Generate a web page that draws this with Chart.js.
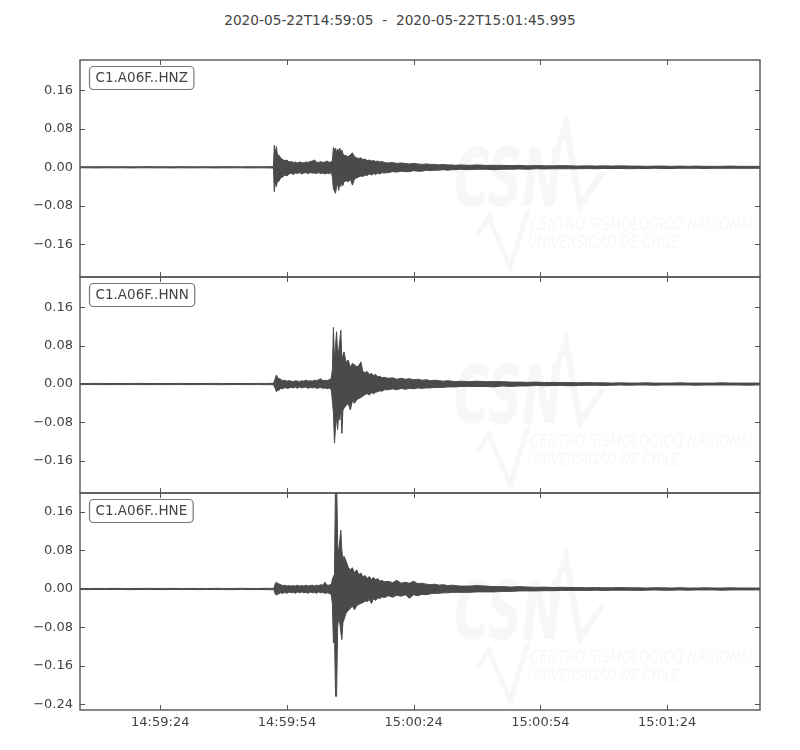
<!DOCTYPE html>
<html>
<head>
<meta charset="utf-8">
<script src="https://cdn.jsdelivr.net/npm/chart.js@4.4.0/dist/chart.umd.min.js"></script>
<style>
body { margin: 0; background: #fff; width: 800px; height: 750px; position: relative; overflow: hidden; font-family: "DejaVu Sans", sans-serif; }
#title { position: absolute; top: 12px; left: 0; width: 800px; text-align: center; font-size: 13.7px; color: #444; white-space: pre; }
canvas { position: absolute; left: 0; }
</style>
</head>
<body>
<div id="title"></div>
<canvas id="hnz" width="800" height="237" style="top:50px"></canvas>
<canvas id="hnn" width="800" height="236" style="top:267px"></canvas>
<canvas id="hne" width="800" height="267" style="top:483px"></canvas>
<script>
// record window and axis labels
const startTime = '2020-05-22T14:59:05'
const endTime = '2020-05-22T15:01:45.995'
const duration = 160.995
const tickSeconds = [19, 49, 79, 109, 139]
const tickLabels = ['14:59:24', '14:59:54', '15:00:24', '15:00:54', '15:01:24']
const channels = ['C1.A06F..HNZ', 'C1.A06F..HNN', 'C1.A06F..HNE']

// y limits per panel and tick values
const rangeHNZ = [-0.228, 0.223]
const rangeHNN = [-0.227, 0.223]
const rangeHNE = [-0.2515, 0.1995]
const ticksZN = [-0.16, -0.08, 0, 0.08, 0.16]
const ticksE = [-0.24, -0.16, -0.08, 0, 0.08, 0.16]

// seconds after start, envelope (peak up / peak down per step)
const secs = [0, 2, 4, 6, 8, 10, 12, 14, 16, 18, 20, 22, 24, 26, 28, 30, 32, 34, 36, 38, 40, 42, 44, 45, 45.8,
	46, 46.25, 46.5, 46.75, 47, 47.5, 48, 48.5, 49, 49.5, 50, 50.5, 51, 51.5, 52, 52.5, 53, 53.5, 54, 54.5, 55, 55.5, 56, 56.5, 57, 57.5, 58, 58.5, 59, 59.5,
	59.75, 60, 60.25, 60.5, 60.75, 61, 61.25, 61.5, 61.75, 62, 62.25, 62.5,
	63, 63.5, 64, 64.5, 65, 65.5, 66, 66.5, 67, 67.5, 68, 68.5, 69, 69.5, 70, 70.5, 71, 71.5, 72,
	73, 74, 75, 76, 77, 78, 79, 80, 81, 82, 83, 84, 85, 86, 87, 88, 89, 90,
	92, 94, 96, 98, 100, 102, 104, 106, 108, 110, 112, 114, 116, 118, 120, 122, 124, 126, 128, 130, 132, 134, 136, 138, 140, 142, 144, 146, 148, 150, 152, 154, 156, 158, 160, 161]

const hnzTop = [0.001, 0.0012, 0.001, 0.0013, 0.001, 0.0012, 0.0011, 0.001, 0.0014, 0.001, 0.0012, 0.001, 0.0013, 0.0011, 0.001, 0.0012, 0.001, 0.0013, 0.0011, 0.001, 0.0012, 0.0011, 0.0013, 0.0012, 0.0015,
	0.046, 0.03, 0.043, 0.025, 0.026, 0.02, 0.016, 0.014, 0.015, 0.011, 0.012, 0.01, 0.011, 0.009, 0.011, 0.01, 0.009, 0.011, 0.01, 0.012, 0.013, 0.015, 0.011, 0.01, 0.012, 0.01, 0.011, 0.013, 0.01, 0.012,
	0.012, 0.041, 0.036, 0.04, 0.03, 0.038, 0.033, 0.04, 0.03, 0.036, 0.028, 0.025,
	0.024, 0.022, 0.026, 0.03, 0.022, 0.02, 0.018, 0.02, 0.016, 0.017, 0.014, 0.015, 0.013, 0.014, 0.012, 0.013, 0.011, 0.012, 0.01,
	0.009, 0.01, 0.008, 0.009, 0.008, 0.007, 0.008, 0.007, 0.006, 0.007, 0.006, 0.006, 0.005, 0.006, 0.005, 0.005, 0.004, 0.005,
	0.004, 0.005, 0.004, 0.004, 0.004, 0.0035, 0.004, 0.003, 0.0035, 0.003, 0.003, 0.0035, 0.003, 0.0025, 0.003, 0.0025, 0.003, 0.0025, 0.003, 0.0025, 0.0025, 0.002, 0.0025, 0.0025, 0.002, 0.0025, 0.002, 0.0025, 0.002, 0.002, 0.002, 0.0025, 0.002, 0.002, 0.002, 0.002]
const hnzBot = [-0.001, -0.0011, -0.0013, -0.001, -0.0012, -0.001, -0.0013, -0.0011, -0.001, -0.0012, -0.0011, -0.0013, -0.001, -0.0012, -0.0011, -0.001, -0.0013, -0.0011, -0.0012, -0.001, -0.0013, -0.0011, -0.0012, -0.0013, -0.0015,
	-0.051, -0.03, -0.04, -0.028, -0.03, -0.022, -0.02, -0.016, -0.018, -0.014, -0.012, -0.015, -0.012, -0.013, -0.011, -0.014, -0.012, -0.011, -0.013, -0.011, -0.012, -0.012, -0.013, -0.011, -0.013, -0.012, -0.014, -0.012, -0.013, -0.011,
	-0.02, -0.045, -0.05, -0.054, -0.04, -0.035, -0.048, -0.032, -0.04, -0.03, -0.038, -0.03,
	-0.028, -0.03, -0.025, -0.037, -0.025, -0.022, -0.02, -0.018, -0.019, -0.016, -0.017, -0.014, -0.016, -0.013, -0.015, -0.012, -0.014, -0.011, -0.012,
	-0.011, -0.009, -0.01, -0.008, -0.009, -0.009, -0.007, -0.008, -0.008, -0.006, -0.007, -0.006, -0.006, -0.005, -0.006, -0.005, -0.005, -0.004,
	-0.005, -0.004, -0.004, -0.005, -0.004, -0.004, -0.0035, -0.004, -0.003, -0.0035, -0.003, -0.003, -0.003, -0.003, -0.0025, -0.003, -0.0025, -0.0025, -0.0025, -0.003, -0.0025, -0.0025, -0.002, -0.0025, -0.0025, -0.002, -0.002, -0.002, -0.0025, -0.002, -0.002, -0.002, -0.002, -0.002, -0.002, -0.002]

const hnnTop = [0.001, 0.0011, 0.0013, 0.001, 0.0012, 0.001, 0.0011, 0.0014, 0.001, 0.0012, 0.0011, 0.001, 0.0013, 0.001, 0.0012, 0.0011, 0.0013, 0.001, 0.0012, 0.001, 0.0011, 0.0013, 0.0012, 0.0014, 0.0015,
	0.006, 0.012, 0.019, 0.014, 0.012, 0.01, 0.007, 0.008, 0.006, 0.007, 0.006, 0.005, 0.007, 0.006, 0.005, 0.007, 0.006, 0.008, 0.006, 0.007, 0.006, 0.008, 0.007, 0.009, 0.011, 0.007, 0.008, 0.007, 0.009, 0.012,
	0.03, 0.118, 0.05, 0.08, 0.109, 0.06, 0.07, 0.09, 0.112, 0.05, 0.06, 0.067,
	0.045, 0.05, 0.035, 0.043, 0.04, 0.036, 0.038, 0.046, 0.025, 0.024, 0.026, 0.02, 0.022, 0.018, 0.02, 0.015, 0.016, 0.013, 0.014,
	0.012, 0.013, 0.01, 0.012, 0.01, 0.011, 0.009, 0.01, 0.008, 0.009, 0.007, 0.008, 0.007, 0.006, 0.007, 0.006, 0.005, 0.006,
	0.005, 0.006, 0.005, 0.005, 0.005, 0.004, 0.004, 0.0035, 0.004, 0.003, 0.0035, 0.003, 0.003, 0.0025, 0.003, 0.0025, 0.0025, 0.002, 0.0025, 0.002, 0.002, 0.0025, 0.002, 0.002, 0.002, 0.0025, 0.002, 0.002, 0.002, 0.002, 0.0025, 0.002, 0.002, 0.002, 0.002, 0.002]
const hnnBot = [-0.0012, -0.001, -0.0011, -0.0013, -0.001, -0.0012, -0.001, -0.0011, -0.0013, -0.001, -0.0012, -0.0011, -0.001, -0.0013, -0.0011, -0.001, -0.0012, -0.0013, -0.001, -0.0011, -0.0012, -0.001, -0.0013, -0.0012, -0.0015,
	-0.005, -0.01, -0.016, -0.013, -0.014, -0.009, -0.01, -0.007, -0.009, -0.008, -0.007, -0.008, -0.006, -0.009, -0.006, -0.008, -0.007, -0.006, -0.009, -0.007, -0.008, -0.007, -0.009, -0.008, -0.007, -0.009, -0.008, -0.01, -0.008, -0.012,
	-0.035, -0.06, -0.123, -0.09, -0.07, -0.095, -0.06, -0.075, -0.05, -0.103, -0.055, -0.05,
	-0.045, -0.04, -0.054, -0.035, -0.04, -0.033, -0.03, -0.028, -0.025, -0.022, -0.02, -0.023, -0.018, -0.02, -0.017, -0.016, -0.014, -0.015, -0.012,
	-0.012, -0.01, -0.012, -0.009, -0.011, -0.009, -0.01, -0.008, -0.009, -0.008, -0.008, -0.007, -0.007, -0.007, -0.006, -0.006, -0.006, -0.005,
	-0.005, -0.005, -0.005, -0.006, -0.004, -0.005, -0.004, -0.004, -0.003, -0.0035, -0.003, -0.003, -0.0035, -0.003, -0.0025, -0.0025, -0.003, -0.0025, -0.002, -0.0025, -0.002, -0.002, -0.0025, -0.002, -0.002, -0.002, -0.002, -0.0025, -0.002, -0.002, -0.002, -0.002, -0.002, -0.0025, -0.002, -0.002]

const hneTop = [0.0011, 0.001, 0.0012, 0.001, 0.0013, 0.0011, 0.001, 0.0012, 0.0014, 0.001, 0.0011, 0.0013, 0.001, 0.0012, 0.0011, 0.001, 0.0013, 0.0012, 0.001, 0.0014, 0.0011, 0.001, 0.0015, 0.0012, 0.0013,
	0.004, 0.012, 0.014, 0.012, 0.011, 0.009, 0.007, 0.008, 0.006, 0.007, 0.006, 0.007, 0.006, 0.008, 0.006, 0.007, 0.006, 0.008, 0.006, 0.007, 0.008, 0.006, 0.008, 0.007, 0.009, 0.008, 0.014, 0.008, 0.008, 0.01,
	0.02, 0.026, 0.03, 0.23, 0.23, 0.096, 0.07, 0.1, 0.122, 0.08, 0.06, 0.068,
	0.058, 0.045, 0.04, 0.044, 0.033, 0.04, 0.03, 0.033, 0.025, 0.028, 0.022, 0.026, 0.02, 0.024, 0.019, 0.022, 0.016, 0.018, 0.015,
	0.016, 0.013, 0.018, 0.012, 0.014, 0.012, 0.016, 0.011, 0.012, 0.01, 0.009, 0.01, 0.008, 0.009, 0.007, 0.008, 0.007, 0.006,
	0.006, 0.007, 0.006, 0.005, 0.005, 0.004, 0.005, 0.004, 0.0035, 0.004, 0.003, 0.0035, 0.003, 0.003, 0.0025, 0.003, 0.0025, 0.0025, 0.003, 0.0025, 0.0025, 0.002, 0.0025, 0.0025, 0.002, 0.0025, 0.002, 0.002, 0.0025, 0.002, 0.002, 0.0025, 0.002, 0.002, 0.002, 0.002]
const hneBot = [-0.0011, -0.0013, -0.001, -0.0012, -0.001, -0.0011, -0.0014, -0.001, -0.0012, -0.0011, -0.0013, -0.001, -0.0012, -0.001, -0.0013, -0.0011, -0.001, -0.0012, -0.0014, -0.001, -0.0012, -0.0011, -0.0013, -0.0015, -0.0012,
	-0.004, -0.011, -0.012, -0.012, -0.01, -0.008, -0.009, -0.007, -0.009, -0.006, -0.008, -0.007, -0.009, -0.006, -0.008, -0.006, -0.008, -0.007, -0.009, -0.006, -0.008, -0.007, -0.009, -0.006, -0.008, -0.007, -0.009, -0.008, -0.009, -0.012,
	-0.03, -0.112, -0.09, -0.223, -0.223, -0.078, -0.06, -0.07, -0.09, -0.105, -0.07, -0.064,
	-0.05, -0.045, -0.04, -0.036, -0.043, -0.035, -0.032, -0.03, -0.028, -0.025, -0.026, -0.022, -0.03, -0.02, -0.024, -0.018, -0.02, -0.016, -0.018,
	-0.014, -0.017, -0.013, -0.015, -0.012, -0.019, -0.012, -0.014, -0.011, -0.012, -0.01, -0.009, -0.009, -0.008, -0.008, -0.007, -0.007, -0.007,
	-0.007, -0.006, -0.006, -0.006, -0.005, -0.005, -0.004, -0.004, -0.004, -0.0035, -0.0035, -0.003, -0.003, -0.003, -0.003, -0.0025, -0.003, -0.0025, -0.0025, -0.0025, -0.003, -0.0025, -0.002, -0.0025, -0.0025, -0.002, -0.0025, -0.002, -0.002, -0.002, -0.0025, -0.002, -0.002, -0.002, -0.002, -0.002]

document.getElementById('title').textContent = startTime + '  -  ' + endTime

const traceColor = '#4a4a4a'
const frameColor = '#555'
const textColor = '#444'

// faint CSN logo behind each trace
const drawWatermark = (ctx, a) => {
	const x0 = a.left, y0 = a.top
	ctx.save()
	ctx.fillStyle = '#f7f7f7'
	ctx.strokeStyle = '#f7f7f7'
	ctx.save()
	ctx.translate(x0 + 374, y0 + 146)
	ctx.scale(0.6, 1)
	ctx.font = 'italic bold 80px "DejaVu Sans"'
	ctx.fillText('CSN', 0, 0)
	ctx.restore()
	ctx.lineWidth = 6
	ctx.lineJoin = 'miter'
	ctx.beginPath()
	ctx.moveTo(x0 + 476, y0 + 92)
	ctx.lineTo(x0 + 486, y0 + 65)
	ctx.lineTo(x0 + 500, y0 + 145)
	ctx.lineTo(x0 + 523, y0 + 112)
	ctx.stroke()
	ctx.lineWidth = 5
	ctx.beginPath()
	ctx.moveTo(x0 + 398, y0 + 174)
	ctx.lineTo(x0 + 409, y0 + 157)
	ctx.lineTo(x0 + 430, y0 + 208)
	ctx.lineTo(x0 + 448, y0 + 150)
	ctx.stroke()
	ctx.font = 'italic 17px "DejaVu Sans"'
	ctx.fillText('CENTRO SISMOLÓGICO NACIONAL', x0 + 450, y0 + 170, 226)
	ctx.fillText('UNIVERSIDAD DE CHILE', x0 + 448, y0 + 188, 152)
	ctx.restore()
}

const seg = (ctx, x1, y1, x2, y2) => {
	ctx.beginPath()
	ctx.moveTo(x1, y1)
	ctx.lineTo(x2, y2)
	ctx.stroke()
}

const panelPlugin = {
	id: 'panel',
	beforeDatasetsDraw(chart) {
		drawWatermark(chart.ctx, chart.chartArea)
	},
	afterDatasetsDraw(chart, args, opts) {
		const ctx = chart.ctx
		const a = chart.chartArea
		const x = chart.scales.x
		const y = chart.scales.y
		ctx.save()
		ctx.strokeStyle = frameColor
		ctx.lineWidth = 1
		tickSeconds.forEach(v => {
			const px = Math.round(x.getPixelForValue(v)) + 0.5
			seg(ctx, px, a.bottom, px, a.bottom - 5)
			seg(ctx, px, a.top, px, a.top + 5)
		})
		opts.yTicks.forEach(v => {
			const py = Math.round(y.getPixelForValue(v)) + 0.5
			seg(ctx, a.left, py, a.left + 5, py)
			seg(ctx, a.right, py, a.right - 5, py)
		})
		ctx.lineWidth = 1.4
		ctx.strokeRect(a.left, a.top, a.right - a.left, a.bottom - a.top)

		// channel name box
		ctx.font = '13.5px "DejaVu Sans"'
		const w = ctx.measureText(opts.label).width + 12
		const bx = a.left + 9.5, by = a.top + 6.5, bh = 23, r = 4
		ctx.beginPath()
		ctx.moveTo(bx + r, by)
		ctx.arcTo(bx + w, by, bx + w, by + bh, r)
		ctx.arcTo(bx + w, by + bh, bx, by + bh, r)
		ctx.arcTo(bx, by + bh, bx, by, r)
		ctx.arcTo(bx, by, bx + w, by, r)
		ctx.closePath()
		ctx.fillStyle = '#fff'
		ctx.fill()
		ctx.strokeStyle = '#777'
		ctx.lineWidth = 1.2
		ctx.stroke()
		ctx.fillStyle = textColor
		ctx.textBaseline = 'middle'
		ctx.fillText(opts.label, bx + 6, by + bh / 2 + 0.5)
		ctx.restore()
	}
}

const makeChart = (id, label, top, bot, range, yTicks, showX) => {
	const upper = secs.map((t, i) => ({x: t, y: top[i]}))
	const lower = secs.map((t, i) => ({x: t, y: bot[i]}))
	return new Chart(document.getElementById(id), {
		type: 'line',
		data: {
			datasets: [
				{data: upper, borderColor: traceColor, backgroundColor: traceColor, borderWidth: 1, fill: '+1', pointRadius: 0, tension: 0},
				{data: lower, borderColor: traceColor, backgroundColor: traceColor, borderWidth: 1, fill: false, pointRadius: 0, tension: 0}
			]
		},
		options: {
			responsive: false,
			animation: false,
			layout: {padding: {top: 10, bottom: showX ? 0 : 10, left: 0, right: 40}},
			plugins: {
				legend: {display: false},
				tooltip: {enabled: false},
				panel: {label: label, yTicks: yTicks}
			},
			scales: {
				x: {
					type: 'linear',
					min: 0,
					max: duration,
					display: showX,
					grid: {display: false, drawTicks: false},
					border: {display: false},
					afterBuildTicks: scale => { scale.ticks = tickSeconds.map(v => ({value: v})) },
					afterFit: scale => {
						scale.height = showX ? 40 : 0
						scale.paddingLeft = 0
						scale.paddingRight = 0
					},
					ticks: {
						autoSkip: false,
						maxRotation: 0,
						padding: 5,
						color: textColor,
						font: {family: 'DejaVu Sans', size: 13},
						callback: v => tickLabels[tickSeconds.indexOf(v)]
					}
				},
				y: {
					type: 'linear',
					min: range[0],
					max: range[1],
					grid: {display: false, drawTicks: false},
					border: {display: false},
					afterBuildTicks: scale => { scale.ticks = yTicks.map(v => ({value: v})) },
					afterFit: scale => {
						scale.width = 80
						scale.paddingTop = 0
						scale.paddingBottom = 0
					},
					ticks: {
						padding: 7,
						color: textColor,
						font: {family: 'DejaVu Sans', size: 13},
						callback: v => v.toFixed(2).replace('-', '\u2212')
					}
				}
			}
		},
		plugins: [panelPlugin]
	})
}

makeChart('hnz', channels[0], hnzTop, hnzBot, rangeHNZ, ticksZN, false)
makeChart('hnn', channels[1], hnnTop, hnnBot, rangeHNN, ticksZN, false)
makeChart('hne', channels[2], hneTop, hneBot, rangeHNE, ticksE, true)
</script>
</body>
</html>
